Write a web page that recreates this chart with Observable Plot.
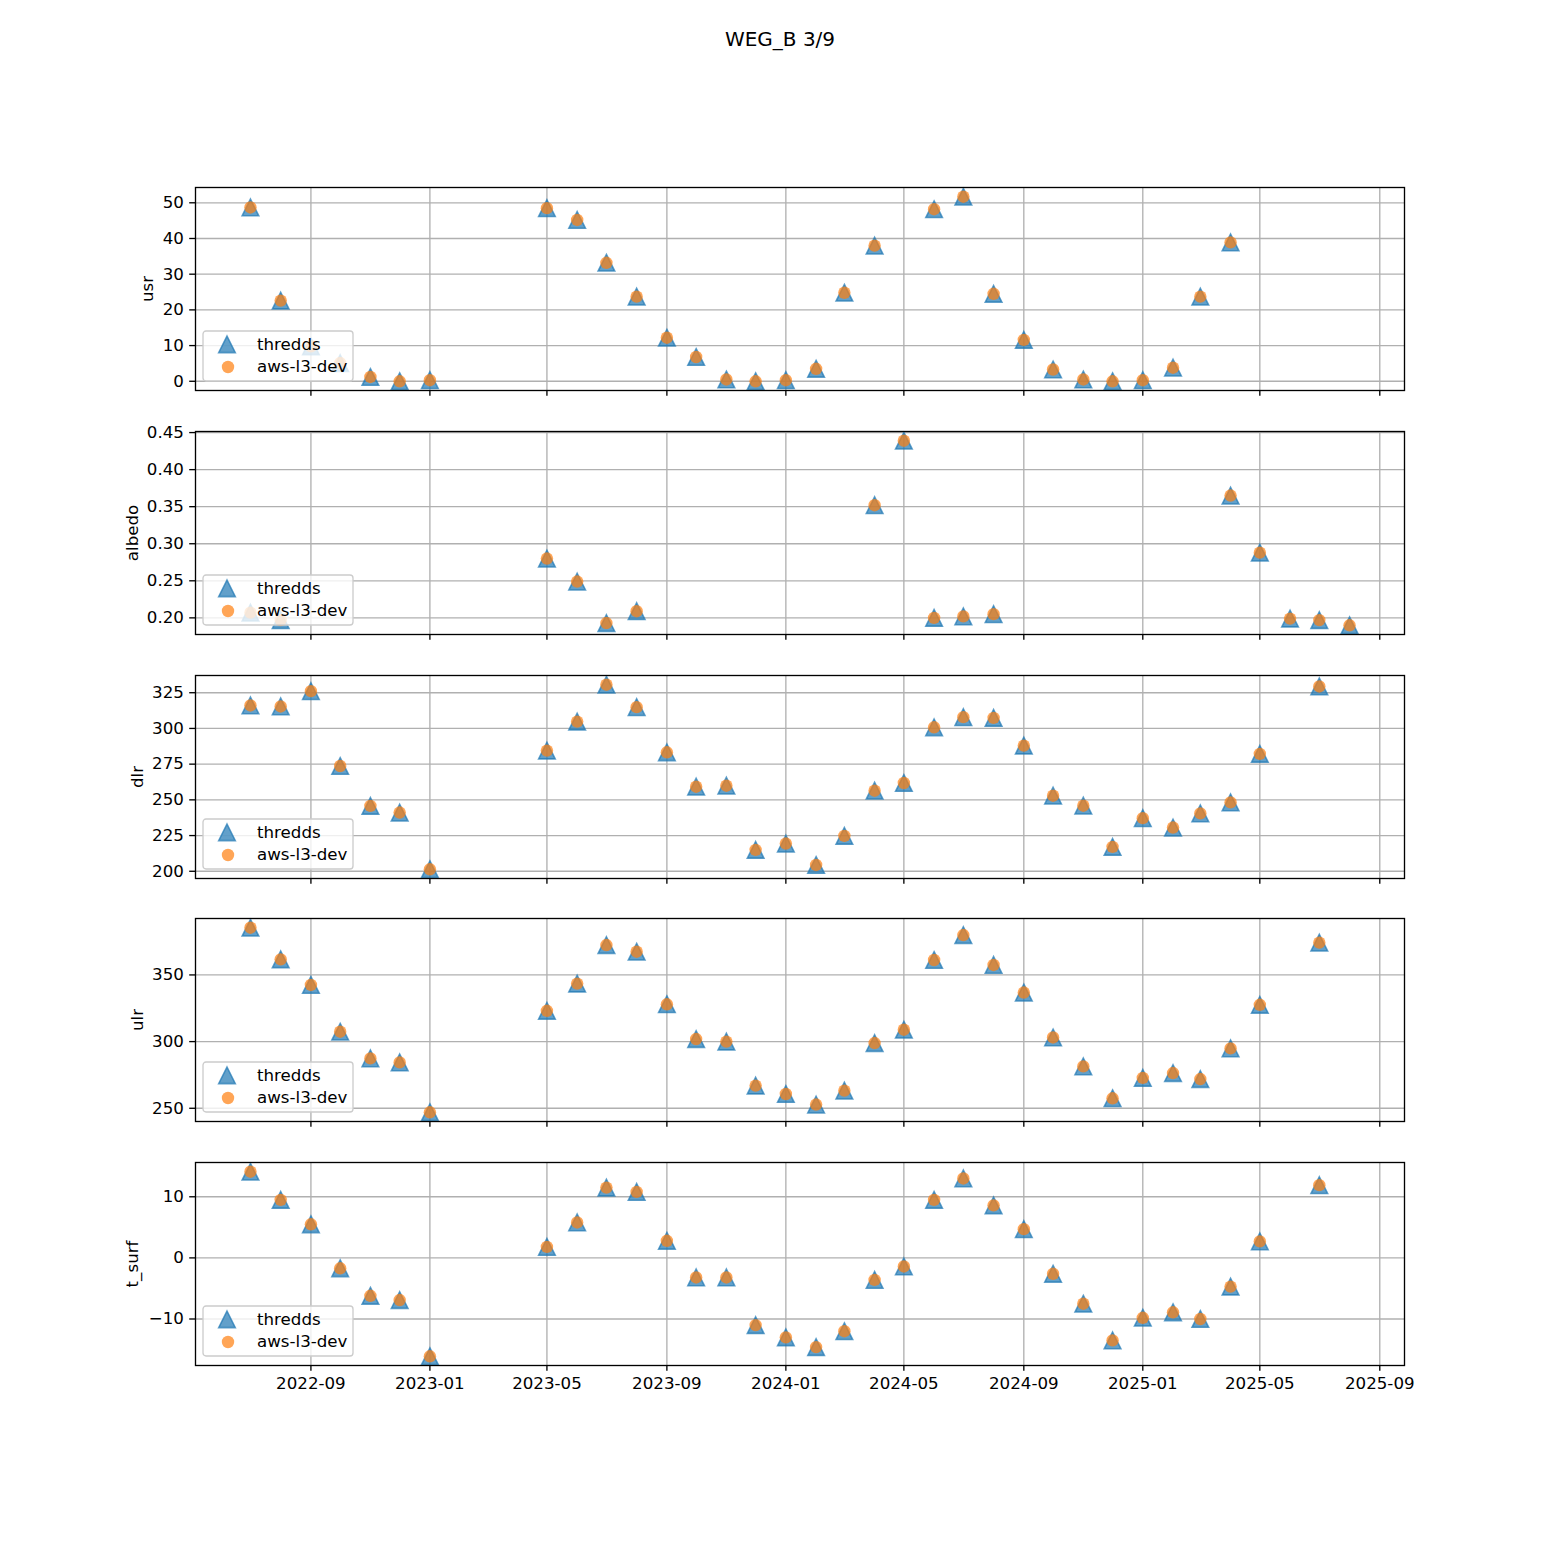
<!DOCTYPE html>
<html>
<head>
<meta charset="utf-8">
<script src="https://cdn.jsdelivr.net/npm/d3@7"></script>
<script src="https://cdn.jsdelivr.net/npm/@observablehq/plot@0.6"></script>
<style>
  body { margin: 0; background: #fff; }
  #fig { position: relative; width: 1560px; height: 1560px; background: #fff; color: #000;
         font-family: "DejaVu Sans", sans-serif; overflow: hidden; }
  .title { position: absolute; left: 0; width: 1560px; top: 27px; text-align: center;
           font-size: 20px; line-height: 24px; }
  .panel { position: absolute; left: 0; }
</style>
</head>
<body>
<div id="fig"><div class="title">WEG_B 3/9</div></div>
<script>
// ---------- data (monthly means) ----------
const months = [
  "2022-07","2022-08","2022-09","2022-10","2022-11","2022-12",
  "2023-01","2023-02","2023-03","2023-04","2023-05","2023-06",
  "2023-07","2023-08","2023-09","2023-10","2023-11","2023-12",
  "2024-01","2024-02","2024-03","2024-04","2024-05","2024-06",
  "2024-07","2024-08","2024-09","2024-10","2024-11","2024-12",
  "2025-01","2025-02","2025-03","2025-04","2025-05","2025-06",
  "2025-07","2025-08"
];
const usr = [48.7, 22.6, 9.8, 5.1, 1.2, 0.0, 0.3, null, null, null, 48.5, 45.2,
  33.2, 23.7, 12.2, 6.8, 0.5, 0.0, 0.3, 3.5, 24.8, 38.0, null, 48.2,
  51.7, 24.5, 11.6, 3.3, 0.5, 0.0, 0.3, 3.8, 23.7, 38.9, null, null, null, null];
const albedo = [0.207, 0.197, null, null, null, null, null, null, null, null, 0.280, 0.249,
  0.193, 0.209, null, null, null, null, null, null, null, 0.352, 0.439, 0.200,
  0.202, 0.205, null, null, null, null, null, null, null, 0.365, 0.288, 0.199, 0.197, 0.190];
const dlr = [316.1, 315.4, 326.1, 273.7, 245.8, 241.1, 201.4, null, null, null, 284.5, 304.8,
  330.6, 314.9, 283.3, 259.2, 259.9, 215.0, 219.4, 204.4, 224.8, 256.4, 261.8, 300.8,
  307.9, 307.4, 288.0, 252.9, 245.9, 217.1, 237.2, 230.6, 240.5, 248.2, 282.2, null, 329.4, null];
const ulr = [385.4, 361.7, 342.5, 307.4, 287.4, 284.4, 247.0, null, null, null, 323.1, 343.5,
  372.4, 367.4, 328.0, 301.9, 300.0, 267.0, 260.7, 252.8, 263.2, 298.9, 308.9, 361.2,
  379.9, 357.5, 336.8, 303.1, 281.4, 257.5, 272.8, 276.4, 271.9, 294.9, 327.6, null, 374.2, null];
const t_surf = [14.1, 9.5, 5.5, -1.7, -6.2, -6.9, -16.1, null, null, null, 1.8, 5.8,
  11.5, 10.8, 2.8, -3.2, -3.2, -11.0, -13.0, -14.6, -12.0, -3.6, -1.4, 9.5,
  13.0, 8.6, 4.7, -2.6, -7.5, -13.5, -9.8, -8.9, -10.0, -4.7, 2.7, null, 11.9, null];

const seriesNames = ["thredds", "aws-l3-dev"];
const panelNames = ["usr", "albedo", "dlr", "ulr", "t_surf"];
const xTickLabels = ["2022-09","2023-01","2023-05","2023-09","2024-01",
                     "2024-05","2024-09","2025-01","2025-05","2025-09"];
const usrTicks = [0, 10, 20, 30, 40, 50];
const albedoTicks = [0.20, 0.25, 0.30, 0.35, 0.40, 0.45];
const dlrTicks = [200, 225, 250, 275, 300, 325];
const ulrTicks = [250, 300, 350];
const tsurfTicks = [-10, 0, 10];

// ---------- layout ----------
const W = 1560;
const panelTops = [187, 431, 675, 918, 1162];
const panelH = 203;
const frameL = 195, frameR = 1404;
const FS = 16.67;              // 10pt at 120 dpi
const blue = "#1f77b4", orange = "#ff7f0e";

const parseMonth = s => new Date(s + "-01T00:00:00Z");
const dates = months.map(parseMonth);
const xTicks = xTickLabels.map(parseMonth);
const pad = ([lo, hi]) => { const r = hi - lo; return [lo - 0.05 * r, hi + 0.05 * r]; };
const xDomain = pad(d3.extent(dates).map(d => +d)).map(v => new Date(v));

// matplotlib-like '^' marker: width == height
const mplTriangle = {
  draw(ctx, size) {
    const h = Math.sqrt(size / Math.PI);
    ctx.moveTo(0, -h); ctx.lineTo(h, h); ctx.lineTo(-h, h); ctx.closePath();
  }
};

const intFmt = d3.format("d");
const panels = [
  {name: panelNames[0], values: usr, ticks: usrTicks, fmt: intFmt, labelOffset: 54},
  {name: panelNames[1], values: albedo, ticks: albedoTicks, fmt: d3.format(".2f"), labelOffset: 69},
  {name: panelNames[2], values: dlr, ticks: dlrTicks, fmt: intFmt, labelOffset: 64},
  {name: panelNames[3], values: ulr, ticks: ulrTicks, fmt: intFmt, labelOffset: 64},
  {name: panelNames[4], values: t_surf, ticks: tsurfTicks, fmt: intFmt, labelOffset: 69}
];

const fig = document.getElementById("fig");
panels.forEach((p, k) => {
  const isLast = k === panels.length - 1;
  const mt = 20, mb = isLast ? 50 : 20;
  const rows = dates.map((d, i) => ({date: d, value: p.values[i]}));
  const yDomain = pad(d3.extent(p.values.filter(v => v != null)));
  const plot = Plot.plot({
    width: W,
    height: panelH + mt + mb,
    marginLeft: frameL, marginRight: W - frameR, marginTop: mt, marginBottom: mb,
    style: {overflow: "visible", background: "transparent", fontFamily: "DejaVu Sans",
            fontSize: FS + "px", color: "#000"},
    x: {type: "utc", domain: xDomain},
    y: {domain: yDomain},
    marks: [
      Plot.gridX({ticks: xTicks, stroke: "#b0b0b0", strokeOpacity: 1, strokeWidth: 1.33}),
      Plot.gridY({ticks: p.ticks, stroke: "#b0b0b0", strokeOpacity: 1, strokeWidth: 1.33}),
      Plot.dot(rows, {x: "date", y: "value", symbol: mplTriangle, r: 8.3,
        fill: blue, fillOpacity: 0.7, stroke: blue, strokeOpacity: 0.7, strokeWidth: 1.6}),
      Plot.dot(rows, {x: "date", y: "value", r: 6.2, fill: orange, fillOpacity: 0.7, stroke: "none"}),
      Plot.frame({stroke: "#000", strokeWidth: 1.33}),
      Plot.axisY({ticks: p.ticks, tickSize: 5.8, tickPadding: 5.8, tickFormat: p.fmt, strokeWidth: 1.33,
        label: p.name, labelAnchor: "center", labelOffset: p.labelOffset, labelArrow: false}),
      Plot.axisX({ticks: xTicks, tickSize: 5.8, tickPadding: 5.8, strokeWidth: 1.33,
        tickFormat: isLast ? d3.utcFormat("%Y-%m") : () => "", label: null})
    ]
  });
  const wrap = document.createElement("div");
  wrap.className = "panel";
  wrap.style.top = (panelTops[k] - mt) + "px";
  wrap.appendChild(plot);
  fig.appendChild(wrap);

  // legend box (lower left, like matplotlib's)
  const lg = d3.create("svg")
    .attr("width", 152).attr("height", 52)
    .style("position", "absolute").style("overflow", "visible")
    .style("top", (panelTops[k] + 143) + "px").style("left", "202px");
  lg.append("rect").attr("x", 1).attr("y", 1).attr("width", 150).attr("height", 50)
    .attr("rx", 3).attr("fill", "#fff").attr("fill-opacity", 0.8)
    .attr("stroke", "#cccccc").attr("stroke-width", 1.33);
  lg.append("path").attr("d", "M25,6L33.3,22.6L16.7,22.6Z")
    .attr("fill", blue).attr("fill-opacity", 0.7)
    .attr("stroke", blue).attr("stroke-opacity", 0.7).attr("stroke-width", 1.6);
  lg.append("circle").attr("cx", 26).attr("cy", 37).attr("r", 6.2)
    .attr("fill", orange).attr("fill-opacity", 0.7);
  seriesNames.forEach((n, i) => {
    lg.append("text").attr("x", 55).attr("y", i ? 42 : 19.5)
      .attr("font-family", "DejaVu Sans").attr("font-size", FS).attr("fill", "#000").text(n);
  });
  fig.appendChild(lg.node());
});
</script>
</body>
</html>
